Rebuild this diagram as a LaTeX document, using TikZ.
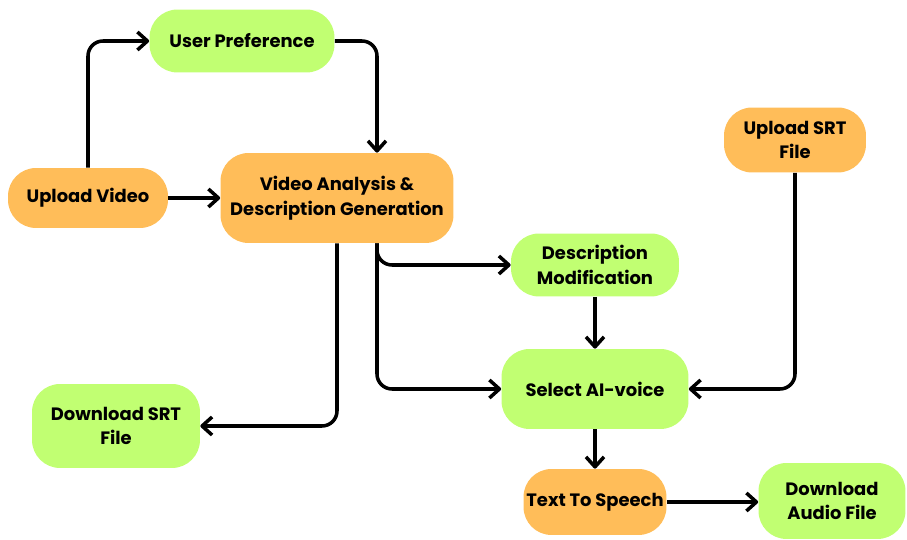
\documentclass[tikz,border=0pt]{standalone}
\usepackage{fontspec}
\setmainfont{Poppins}
\usetikzlibrary{arrows.meta,positioning,calc}
\definecolor{Sun}{HTML}{FFBD59}
\definecolor{Lime}{HTML}{C1FF72}
\definecolor{Ink}{HTML}{000000}
\tikzset{
  orangebox/.style={fill=Sun,rounded corners=0.56cm,align=center,font=\fontsize{10.2}{14}\selectfont\bfseries,text=Ink,inner sep=0pt},
  greenbox/.style={fill=Lime,rounded corners=0.56cm,align=center,font=\fontsize{10.2}{14}\selectfont\bfseries,text=Ink,inner sep=0pt},
  line/.style={-{Straight Barb[length=2mm,width=3.6mm,line join=round]},draw=Ink,line width=2pt,rounded corners=0.3cm}
}

\begin{document}
\begin{tikzpicture}[x=0.02cm,y=-0.02cm]
      \useasboundingbox (0,0) rectangle (907,540);
      % top row
      \node[greenbox,minimum width=3.7cm,minimum height=1.26cm] (upref) at (242,41) {User Preference};
      \node[orangebox,minimum width=3.2cm,minimum height=1.2cm] (upvid) at (88,198) {Upload Video};
      \node[orangebox,minimum width=4.66cm,minimum height=1.8cm] (vid) at (337,198) {Video Analysis \&\\Description Generation};
      \node[orangebox,minimum width=2.84cm,minimum height=1.3cm] (upsrt) at (795,140) {Upload SRT\\File};
      % right column
      \node[greenbox,minimum width=3.36cm,minimum height=1.26cm] (descmod) at (595,265) {Description\\Modification};
      \node[greenbox,minimum width=3.74cm,minimum height=1.6cm] (aivoice) at (595,389) {Select AI-voice};
      \node[orangebox,minimum width=2.86cm,minimum height=1.32cm] (tts) at (595,502) {Text To Speech};
      \node[greenbox,minimum width=2.94cm,minimum height=1.52cm] (dlaudio) at (832,501) {Download\\Audio File};
      \node[greenbox,minimum width=3.36cm,minimum height=1.68cm] (dlsrt) at (116,426) {Download SRT\\File};
      % connectors
      \draw[line] (upvid.north) |- (upref.west);
      \draw[line] (upref.east) -| ([xshift=0.8cm]vid.north);
      \draw[line] (upvid) -- (vid);
      \draw[line] ([xshift=0.8cm]vid.south) |- (descmod.west);
      \draw[line] ([xshift=0.8cm]vid.south) |- (aivoice.west);
      \draw[line] (vid.south) |- (dlsrt.east);
      \draw[line] (descmod) -- (aivoice);
      \draw[line] (upsrt.south) |- (aivoice.east);
      \draw[line] (aivoice) -- (tts);
      \draw[line] (tts.east) -- (tts.east -| dlaudio.west);
    \end{tikzpicture}
\end{document}
